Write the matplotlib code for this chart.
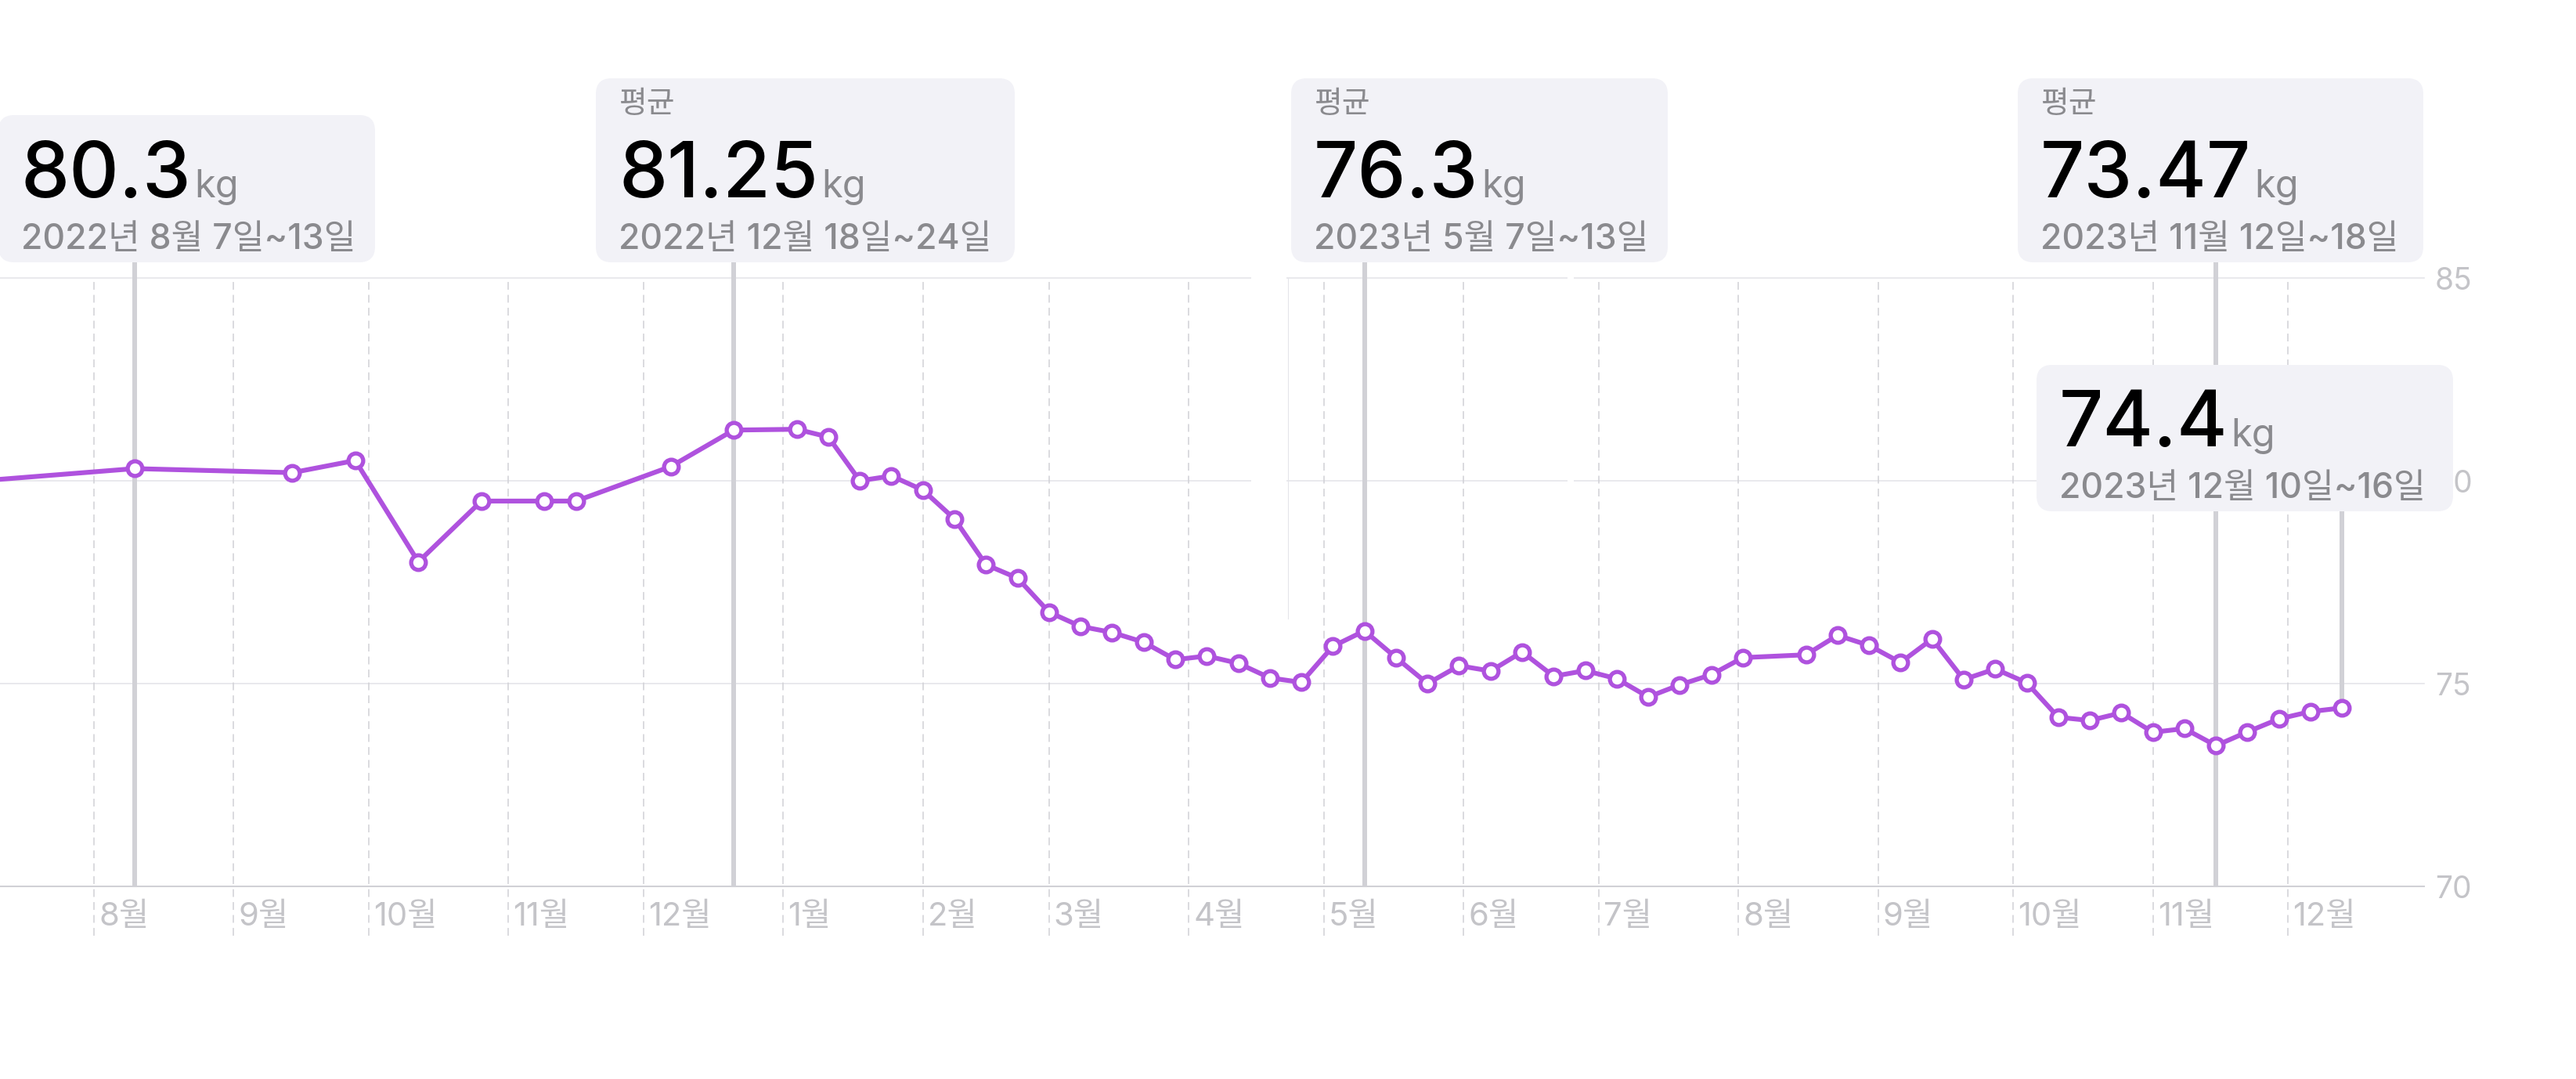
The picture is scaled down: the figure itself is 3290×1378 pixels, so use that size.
import matplotlib
matplotlib.use("Agg")
import matplotlib.pyplot as plt
import matplotlib.dates as mdates
import matplotlib.transforms as mtransforms
from matplotlib.patches import FancyBboxPatch, Rectangle
import pandas as pd

plt.rcParams['font.family'] = ['Inter', 'Noto Sans CJK KR', 'DejaVu Sans']

# weekly averages (middle of each Sun-Sat week), kg
week_dates = ['2022-07-06', '2022-08-10', '2022-09-14', '2022-09-28', '2022-10-12',
              '2022-10-26', '2022-11-09', '2022-11-16', '2022-12-07', '2022-12-21',
              '2023-01-04', '2023-01-11', '2023-01-18', '2023-01-25', '2023-02-01',
              '2023-02-08', '2023-02-15', '2023-02-22', '2023-03-01', '2023-03-08',
              '2023-03-15', '2023-03-22', '2023-03-29', '2023-04-05', '2023-04-12',
              '2023-04-19', '2023-04-26', '2023-05-03', '2023-05-10', '2023-05-17',
              '2023-05-24', '2023-05-31', '2023-06-07', '2023-06-14', '2023-06-21',
              '2023-06-28', '2023-07-05', '2023-07-12', '2023-07-19', '2023-07-26',
              '2023-08-02', '2023-08-16', '2023-08-23', '2023-08-30', '2023-09-06',
              '2023-09-13', '2023-09-20', '2023-09-27', '2023-10-04', '2023-10-11',
              '2023-10-18', '2023-10-25', '2023-11-01', '2023-11-08', '2023-11-15',
              '2023-11-22', '2023-11-29', '2023-12-06', '2023-12-13']
weights = [79.99, 80.3, 80.2, 80.5, 78.0,
           79.5, 79.5, 79.5, 80.35, 81.25,
           81.27, 81.08, 80.0, 80.12, 79.77,
           79.06, 77.93, 77.6, 76.76, 76.41,
           76.26, 76.02, 75.59, 75.68, 75.5,
           75.14, 75.03, 75.92, 76.3, 75.64,
           75.0, 75.44, 75.31, 75.78, 75.18,
           75.32, 75.12, 74.67, 74.97, 75.22,
           75.64, 75.71, 76.19, 75.94, 75.52,
           76.1, 75.1, 75.36, 75.02, 74.17,
           74.09, 74.28, 73.8, 73.89, 73.47,
           73.81, 74.13, 74.31, 74.4]

month_starts = ['2022-08-01', '2022-09-01', '2022-10-01', '2022-11-01', '2022-12-01',
                '2023-01-01', '2023-02-01', '2023-03-01', '2023-04-01', '2023-05-01',
                '2023-06-01', '2023-07-01', '2023-08-01', '2023-09-01', '2023-10-01',
                '2023-11-01', '2023-12-01']
month_labels = ['8월', '9월', '10월', '11월', '12월', '1월', '2월', '3월', '4월', '5월',
                '6월', '7월', '8월', '9월', '10월', '11월', '12월']
y_ticks = [70, 75, 80, 85]

# highlighted weeks (callout cards)
hl_dates = ['2022-08-10', '2022-12-21', '2023-05-10', '2023-11-15', '2023-12-13']
hl_values = ['80.3', '81.25', '76.3', '73.47', '74.4']
hl_ranges = ['2022년 8월 7일~13일', '2022년 12월 18일~24일', '2023년 5월 7일~13일',
             '2023년 11월 12일~18일', '2023년 12월 10일~16일']
hl_avg = [False, True, True, True, False]
hl_to_axis = [True, True, True, True, False]
# card boxes in pixels: left, top, right, bottom
card_boxes = [(-2, 147, 479, 335), (761, 100, 1296, 335), (1649, 100, 2130, 335),
              (2577, 100, 3095, 335), (2601, 466, 3133, 653)]

PURPLE = '#af52de'
GRID = '#e5e5ea'
RULE = '#d1d1d6'
LABEL = '#c4c4c8'
SUB = '#8a8a8e'
CARD = '#f2f2f7'

W, H = 3290, 1378
AX_TOP, AX_BOT, AX_RIGHT = 355, 1132, 3096

fig = plt.figure(figsize=(W / 100, H / 100), dpi=100)
ax = fig.add_axes([0, 1 - AX_BOT / H, AX_RIGHT / W, (AX_BOT - AX_TOP) / H])
ax.set_axisbelow(True)


def axfrac(py):
    return (AX_BOT - py) / (AX_BOT - AX_TOP)


def inch(px, py):
    return px / 100, (H - py) / 100


dates = pd.to_datetime(week_dates)
months = pd.to_datetime(month_starts)

x0 = mdates.date2num(pd.Timestamp('2022-07-11')) + 0.145
ax.set_xlim(x0, x0 + 538.05)
ax.set_ylim(70, 85)

for s in ['top', 'left', 'right']:
    ax.spines[s].set_visible(False)
ax.spines['bottom'].set_color(RULE)
ax.spines['bottom'].set_linewidth(1.5)

for y in y_ticks[1:]:
    ax.axhline(y, color=GRID, lw=1.2, zorder=1, clip_on=False)

ax.set_xticks([])
ax.yaxis.tick_right()
ax.set_yticks(y_ticks)
ax.set_yticklabels([str(t) for t in y_ticks])
ax.tick_params(axis='y', length=0, pad=10, labelsize=28, labelcolor=LABEL)

xtrans = ax.get_xaxis_transform()
ax.vlines(months, axfrac(1195), 1, transform=xtrans, colors=RULE, lw=1.1,
          linestyles=(0, (6.5, 4.3)), clip_on=False, zorder=1.5)
lab_trans = mtransforms.offset_copy(xtrans, fig=fig, x=6, y=0, units='dots')
for d, lab in zip(months, month_labels):
    ax.text(d, axfrac(1171), lab, transform=lab_trans, ha='left', va='center',
            fontsize=30, color=LABEL, family=['Inter', 'Noto Sans CJK KR'])

# rule lines from the cards
for d, v, box, to_axis in zip(hl_dates, hl_values, card_boxes, hl_to_axis):
    lo = 0 if to_axis else (float(v) - 70) / 15
    ax.plot([pd.Timestamp(d)] * 2, [lo, axfrac(box[3])], transform=xtrans,
            color=RULE, lw=4.3, solid_capstyle='butt', clip_on=False, zorder=3)

ax.plot(dates, weights, color=PURPLE, lw=4.4, marker='o', ms=13.5, mfc='white',
        mec=PURPLE, mew=3.8, zorder=4)

# screenshot seam artifacts
ax.add_patch(Rectangle(inch(1598, 790), 0.45, 4.52, transform=fig.dpi_scale_trans,
                       fc='white', ec='none', zorder=3.5, clip_on=False))
ax.plot([16.45, 16.45], [(H - 355) / 100, (H - 790) / 100], transform=fig.dpi_scale_trans,
        color=GRID, lw=0.8, zorder=3.6, clip_on=False)
ax.add_patch(Rectangle(inch(2002, 640), 0.08, 3.04, transform=fig.dpi_scale_trans,
                       fc='white', ec='none', zorder=3.5, clip_on=False))

tr = fig.dpi_scale_trans
for val, rng, avg, box in zip(hl_values, hl_ranges, hl_avg, card_boxes):
    l, t, r, b = box
    ax.add_patch(FancyBboxPatch(inch(l, b), (r - l) / 100, (b - t) / 100,
                                boxstyle='round,pad=0,rounding_size=0.2', transform=tr,
                                fc=CARD, ec='none', zorder=6, clip_on=False))
    tx = l + 29
    if avg:
        ax.text(*inch(tx + 1, t + 44), '평균', transform=tr, fontsize=28, color=SUB,
                va='baseline', ha='left', family=['Noto Sans CJK KR'], zorder=7)
    num = ax.text(*inch(tx, b - 83), val, transform=tr, fontsize=71, color='black',
                  va='baseline', ha='left', family=['Inter'], weight='medium', zorder=7)
    ax.annotate('kg', xy=(1, (H - (b - 83)) / 100), xycoords=(num, tr),
                xytext=(4, 0), textcoords='offset pixels', fontsize=35, color=SUB,
                va='baseline', ha='left', family=['Inter'], zorder=7,
                annotation_clip=False)
    ax.text(*inch(tx, b - 17), rng, transform=tr, fontsize=32, color=SUB,
            va='baseline', ha='left', family=['Inter', 'Noto Sans CJK KR'],
            weight='medium', zorder=7)

fig.savefig('out.png', dpi=100, facecolor='white')
